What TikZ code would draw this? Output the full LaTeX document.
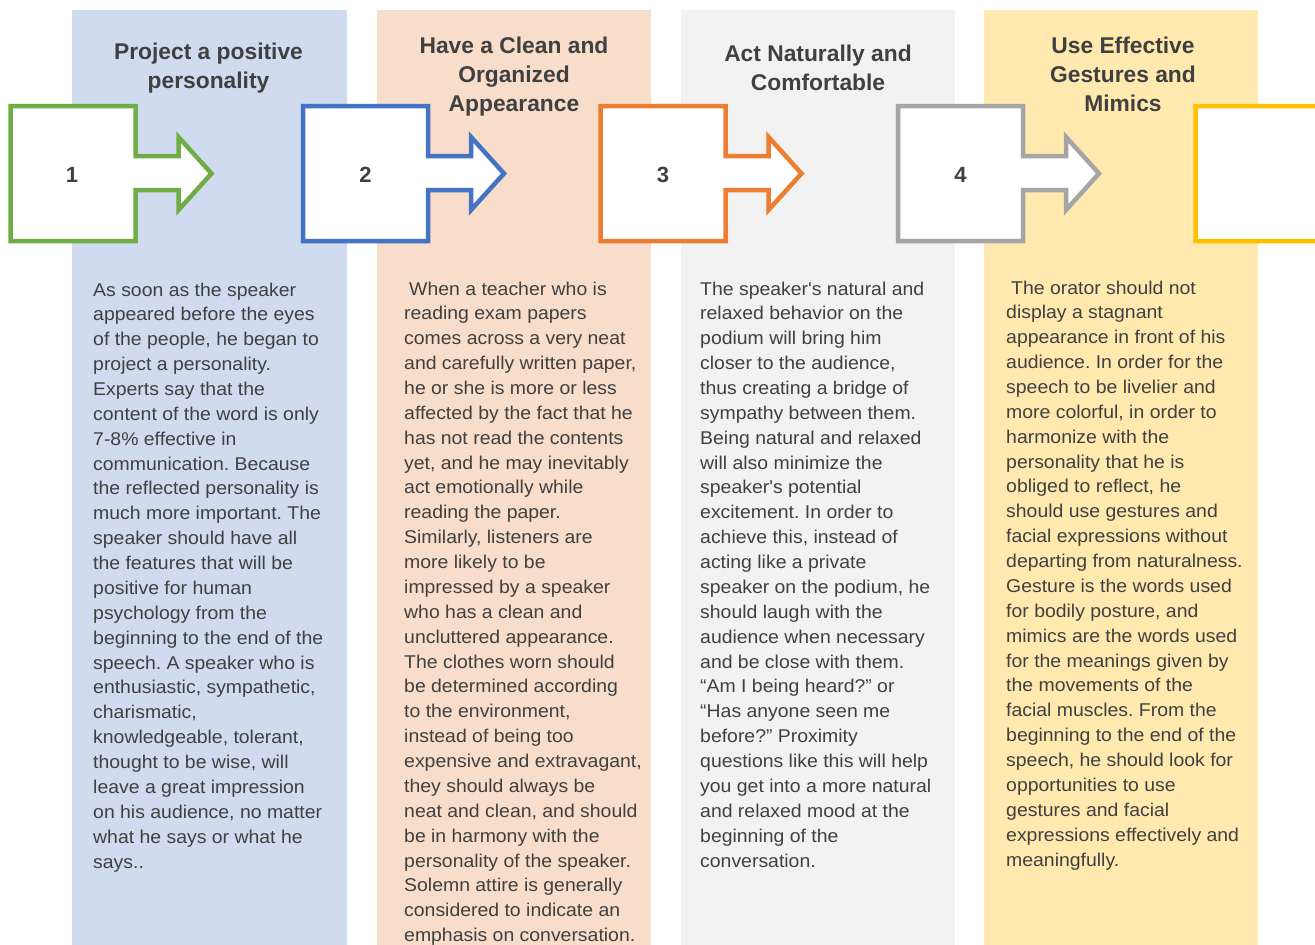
\documentclass[tikz,border=0pt]{standalone}
\usepackage{fontspec}
\setmainfont{Liberation Sans}
\newfontfamily\bodyfont[FakeStretch=1.05]{Liberation Sans}
\definecolor{txt}{HTML}{404040}
\definecolor{cblue}{HTML}{D0DBEF}
\definecolor{cpeach}{HTML}{F8DDCB}
\definecolor{cgray}{HTML}{F2F2F2}
\definecolor{cyellow}{HTML}{FFE9AF}
\definecolor{agreen}{HTML}{70AD47}
\definecolor{ablue}{HTML}{4472C4}
\definecolor{aorange}{HTML}{ED7D31}
\definecolor{agray}{HTML}{A5A5A5}
\definecolor{agold}{HTML}{FFC000}
\tikzset{
  colbg/.style={fill=#1, draw=none},
  arr/.style={draw=#1, line width=4.5pt, fill=white, miter limit=10},
  bodytext/.style={anchor=base west, inner sep=0pt, text=txt},
  ttl/.style={anchor=base, inner sep=0pt, text=txt},
  num/.style={inner sep=0pt, text=txt, font=\bfseries\fontsize{22}{26}\selectfont},
}
\newcommand\bodybox[1]{\parbox[t]{300pt}{\raggedright\frenchspacing\bodyfont\fontsize{18.5}{24.87}\selectfont #1}}
\newcommand\ttlbox[1]{\parbox[t]{275pt}{\centering\bfseries\fontsize{22.8}{29}\selectfont #1}}
\begin{document}
\begin{tikzpicture}[x=1pt,y=-1pt]
\useasboundingbox (0,0) rectangle (1315,945);
\clip (0,0) rectangle (1315,945);
\fill[white] (0,0) rectangle (1315,945);
% columns
\path[colbg=cblue] (72,10) rectangle (347,960);
\path[colbg=cpeach] (377,10) rectangle (651,960);
\path[colbg=cgray] (681,10) rectangle (955,960);
\path[colbg=cyellow] (984,10) rectangle (1258,960);
% titles
\node[ttl] (t1) at (208.5,59) {\ttlbox{Project a positive\\personality}};
\node[ttl] (t2) at (514,53) {\ttlbox{Have a Clean and\\Organized\\Appearance}};
\node[ttl] (t3) at (818,61) {\ttlbox{Act Naturally and\\Comfortable}};
\node[ttl] (t4) at (1123,53) {\ttlbox{Use Effective\\Gestures and\\Mimics}};
% arrows
\foreach \L/\c in {10.5/agreen, 303/ablue, 600.5/aorange, 898/agray, 1195.5/agold} {
  \draw[arr=\c] (\L,106) -- (\L+125,106) -- (\L+125,156) -- (\L+168,156) -- (\L+168,137)
     -- (\L+201,173.5) -- (\L+168,210) -- (\L+168,190) -- (\L+125,190) -- (\L+125,241)
     -- (\L,241) -- cycle;
}
\node[num] (n1) at (72,175) {1};
\node[num] (n2) at (365.5,175) {2};
\node[num] (n3) at (663,175) {3};
\node[num] (n4) at (960.5,175) {4};
% bodies
\node[bodytext] (b1) at (93,296) {\bodybox{As soon as the speaker\\
appeared before the eyes\\
of the people, he began to\\
project a personality.\\
Experts say that the\\
content of the word is only\\
7-8\% effective in\\
communication. Because\\
the reflected personality is\\
much more important. The\\
speaker should have all\\
the features that will be\\
positive for human\\
psychology from the\\
beginning to the end of the\\
speech. A speaker who is\\
enthusiastic, sympathetic,\\
charismatic,\\
knowledgeable, tolerant,\\
thought to be wise, will\\
leave a great impression\\
on his audience, no matter\\
what he says or what he\\
says..}};
\node[bodytext] (b2) at (404,295) {\bodybox{\hspace*{5pt}When a teacher who is\\
reading exam papers\\
comes across a very neat\\
and carefully written paper,\\
he or she is more or less\\
affected by the fact that he\\
has not read the contents\\
yet, and he may inevitably\\
act emotionally while\\
reading the paper.\\
Similarly, listeners are\\
more likely to be\\
impressed by a speaker\\
who has a clean and\\
uncluttered appearance.\\
The clothes worn should\\
be determined according\\
to the environment,\\
instead of being too\\
expensive and extravagant,\\
they should always be\\
neat and clean, and should\\
be in harmony with the\\
personality of the speaker.\\
Solemn attire is generally\\
considered to indicate an\\
emphasis on conversation.}};
\node[bodytext] (b3) at (700,295) {\bodybox{The speaker's natural and\\
relaxed behavior on the\\
podium will bring him\\
closer to the audience,\\
thus creating a bridge of\\
sympathy between them.\\
Being natural and relaxed\\
will also minimize the\\
speaker's potential\\
excitement. In order to\\
achieve this, instead of\\
acting like a private\\
speaker on the podium, he\\
should laugh with the\\
audience when necessary\\
and be close with them.\\
“Am I being heard?” or\\
“Has anyone seen me\\
before?” Proximity\\
questions like this will help\\
you get into a more natural\\
and relaxed mood at the\\
beginning of the\\
conversation.}};
\node[bodytext] (b4) at (1006,294) {\bodybox{\hspace*{5pt}The orator should not\\
display a stagnant\\
appearance in front of his\\
audience. In order for the\\
speech to be livelier and\\
more colorful, in order to\\
harmonize with the\\
personality that he is\\
obliged to reflect, he\\
should use gestures and\\
facial expressions without\\
departing from naturalness.\\
Gesture is the words used\\
for bodily posture, and\\
mimics are the words used\\
for the meanings given by\\
the movements of the\\
facial muscles. From the\\
beginning to the end of the\\
speech, he should look for\\
opportunities to use\\
gestures and facial\\
expressions effectively and\\
meaningfully.}};
\end{tikzpicture}
\end{document}
